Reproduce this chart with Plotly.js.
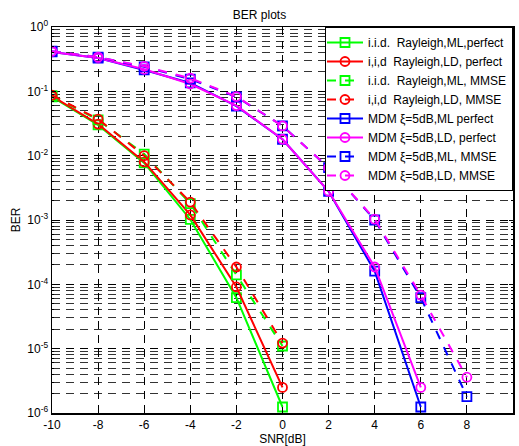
<!DOCTYPE html>
<html><head><meta charset="utf-8">
<script src="https://cdn.plot.ly/plotly-3.0.1.min.js"></script>
<style>html,body{margin:0;padding:0;background:#fff}#c{width:519px;height:446px}</style>
</head><body><div id="c"></div>
<script>
const snrIid = [-10, -8, -6, -4, -2, 0];
const iidMLperfect = [0.082, 0.030, 0.0077, 0.00102, 6.2e-5, 1.24e-6];
const iidLDperfect = [0.084, 0.031, 0.0080, 0.0012, 9.1e-5, 2.5e-6];
const iidMLmmse    = [0.086, 0.036, 0.0106, 0.0018, 1.4e-4, 1.1e-5];
const iidLDmmse    = [0.087, 0.037, 0.0100, 0.0019, 1.86e-4, 1.22e-5];
const snrMdmPerf = [-10, -8, -6, -4, -2, 0, 2, 4, 6];
const snrMdmMmse = [-10, -8, -6, -4, -2, 0, 2, 4, 6, 8];
const mdmMLperfect = [0.41, 0.33, 0.215, 0.135, 0.059, 0.018, 0.0028, 1.6e-4, 1.24e-6];
const mdmLDperfect = [0.41, 0.33, 0.22, 0.13, 0.060, 0.018, 0.0028, 1.86e-4, 2.5e-6];
const mdmMLmmse    = [0.42, 0.34, 0.24, 0.155, 0.082, 0.029, 0.0065, 1.0e-3, 6.2e-5, 1.8e-6];
const mdmLDmmse    = [0.42, 0.34, 0.245, 0.16, 0.083, 0.029, 0.0065, 1.03e-3, 6.8e-5, 3.6e-6];
const names = ['i.i.d.  Rayleigh,ML,perfect','i,i,d  Rayleigh,LD, perfect','i.i.d.  Rayleigh,ML, MMSE','i,i,d  Rayleigh,LD, MMSE',
  'MDM \u03be=5dB,ML perfect','MDM \u03be=5dB,LD, perfect','MDM \u03be=5dB,ML, MMSE','MDM \u03be=5dB,LD, MMSE'];
const xTicks = [-10,-8,-6,-4,-2,0,2,4,6,8,10];
const yTicks = [1e-6,1e-5,1e-4,1e-3,1e-2,1e-1,1];
const yTickText = ['10<sup>-6</sup>','10<sup>-5</sup>','10<sup>-4</sup>','10<sup>-3</sup>','10<sup>-2</sup>','10<sup>-1</sup>','10<sup>0</sup>'];

function tr(x, y, name, color, dash, sym){
  return {x:x, y:y, name:name, type:'scatter', mode:'lines+markers',
    line:{color:color, width:2, dash:dash},
    marker:{symbol:sym, size:9, color:color, line:{color:color, width:1.8}}};
}
const data = [
  tr(snrIid, iidMLperfect, names[0], '#00ff00', 'solid', 'square-open'),
  tr(snrIid, iidLDperfect, names[1], '#ff0000', 'solid', 'circle-open'),
  tr(snrIid, iidMLmmse, names[2], '#00ff00', 'dash', 'square-open'),
  tr(snrIid, iidLDmmse, names[3], '#ff0000', 'dash', 'circle-open'),
  tr(snrMdmPerf, mdmMLperfect, names[4], '#0000ff', 'solid', 'square-open'),
  tr(snrMdmPerf, mdmLDperfect, names[5], '#ff00ff', 'solid', 'circle-open'),
  tr(snrMdmMmse, mdmMLmmse, names[6], '#0000ff', 'dash', 'square-open'),
  tr(snrMdmMmse, mdmLDmmse, names[7], '#ff00ff', 'dash', 'circle-open')
];
const font = {family:'Liberation Sans, Arial, sans-serif', size:11, color:'#000'};
const layout = {
  width:519, height:446,
  margin:{l:52, r:6, t:27, b:33},
  paper_bgcolor:'#fff', plot_bgcolor:'#fff',
  font:font,
  title:{text:'BER plots', font:{family:font.family, size:12, color:'#000'}, x:0.5, xanchor:'center', y:0.977, yanchor:'top'},
  showlegend:true,
  legend:{x:1, xanchor:'right', y:1, yanchor:'top', bgcolor:'#fff', bordercolor:'#000', borderwidth:1,
    font:{family:font.family, size:12, color:'#000'}, tracegroupgap:0, itemwidth:36, indentation:-4},
  xaxis:{range:[-10,10], tickvals:xTicks, ticktext:xTicks.map(String), ticks:'inside', ticklen:4, tickcolor:'#000',
    showline:true, linecolor:'#000', linewidth:1.5, mirror:'ticks', zeroline:false,
    showgrid:true, gridcolor:'#000', griddash:'8px,6px', gridwidth:1,
    title:{text:'SNR[dB]', font:{family:font.family, size:12, color:'#000'}, standoff:2},
    tickfont:{family:font.family, size:12, color:'#000'}},
  yaxis:{type:'log', range:[-6,0], tickvals:yTicks, ticktext:yTickText, ticks:'inside', ticklen:4, tickcolor:'#000',
    showline:true, linecolor:'#000', linewidth:1.5, mirror:'ticks', zeroline:false,
    showgrid:true, gridcolor:'#000', griddash:'8px,6px', gridwidth:1,
    tickfont:{family:font.family, size:12, color:'#000'},
    minor:{dtick:'D1', showgrid:true, gridcolor:'#333', griddash:'8px,6px', gridwidth:1, ticks:'inside', ticklen:2, tickcolor:'#000'},
    title:{text:'BER', font:{family:font.family, size:12, color:'#000'}, standoff:4}}
};
Plotly.newPlot('c', data, layout, {displayModeBar:false, staticPlot:true});
</script></body></html>
